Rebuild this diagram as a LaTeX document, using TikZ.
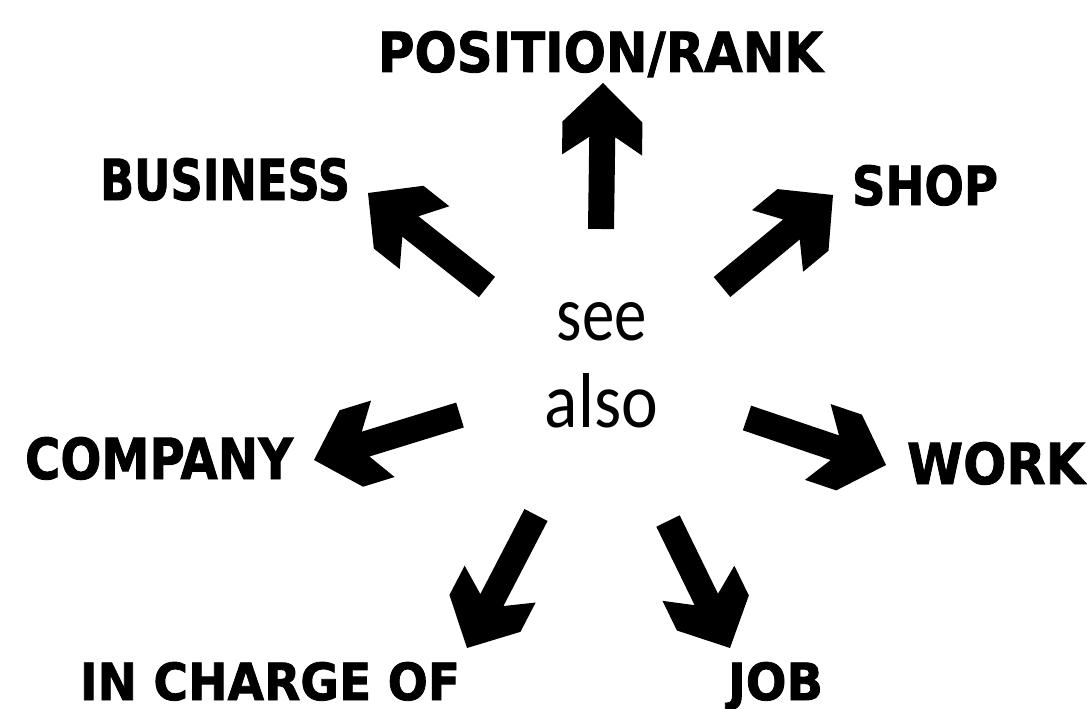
\documentclass[tikz,border=0pt]{standalone}
\usepackage{fontspec}
\usepackage{graphicx}
\usetikzlibrary{calc}
\newfontfamily\lblfont{DejaVu Sans Bold}[FakeBold=1.6]
\newfontfamily\seefont{Carlito}
\newcommand\lbltext[3]{\resizebox{#1pt}{#2pt}{\lblfont #3}}
\newcommand\seetext[3]{\resizebox{#1pt}{#2pt}{\seefont #3}}
% #1 tail coordinate, #2 tip coordinate
\newcommand\fatarrow[2]{%
  \fill[arrowfill] (#2)
    -- ($(#2)!39pt!(#1)!40pt!90:(#1)$)
    -- ($(#2)!72pt!(#1)!40pt!90:(#1)$)
    -- ($(#2)!54pt!(#1)!13pt!90:(#1)$)
    -- ($(#1)!13pt!-90:(#2)$)
    -- ($(#1)!13pt!90:(#2)$)
    -- ($(#2)!54pt!(#1)!13pt!-90:(#1)$)
    -- ($(#2)!72pt!(#1)!40pt!-90:(#1)$)
    -- ($(#2)!39pt!(#1)!40pt!-90:(#1)$)
    -- cycle;}
\begin{document}
\begin{tikzpicture}[x=1pt,y=-1pt,
  lbl/.style={anchor=base west,inner sep=0pt,outer sep=0pt},
  centretext/.style={anchor=base,inner sep=0pt,outer sep=0pt},
  arrowfill/.style={fill=black}]
\fill[white] (0,0) rectangle (1087,709);
\useasboundingbox (0,0) rectangle (1087,709);

% labels
\node[lbl] (pos)  at (378,72)  {\lbltext{445}{41}{POSITION/RANK}};
\node[lbl] (bus)  at (100,200) {\lbltext{250}{42}{BUSINESS}};
\node[lbl] (shop) at (852,205) {\lbltext{146}{40}{SHOP}};
\node[lbl] (comp) at (25,479)  {\lbltext{268}{42}{COMPANY}};
\node[lbl] (work) at (907,484) {\lbltext{178}{42}{WORK}};
\node[lbl] (inch) at (80,700)  {\lbltext{380}{38}{IN CHARGE OF}};
\node[lbl] (job)  at (728,700) {\lbltext{95}{38}{JOB}};

% centre text
\node[centretext] (see)  at (602,340) {\seetext{90}{38}{see}};
\node[centretext] (also) at (601.5,427) {\seetext{113}{54}{also}};

% arrow tails and tips
\coordinate (upT) at (601,229);  \coordinate (upH) at (603,83);
\coordinate (ulT) at (487,287);  \coordinate (ulH) at (368,193);
\coordinate (urT) at (722,287);  \coordinate (urH) at (833,195);
\coordinate (lT)  at (460,415);  \coordinate (lH)  at (314,460);
\coordinate (rT)  at (747,418);  \coordinate (rH)  at (886,465);
\coordinate (dlT) at (536,515);  \coordinate (dlH) at (467,648);
\coordinate (drT) at (668,521);  \coordinate (drH) at (730,648);

\fatarrow{upT}{upH}
\fatarrow{ulT}{ulH}
\fatarrow{urT}{urH}
\fatarrow{lT}{lH}
\fatarrow{rT}{rH}
\fatarrow{dlT}{dlH}
\fatarrow{drT}{drH}
\end{tikzpicture}
\end{document}
